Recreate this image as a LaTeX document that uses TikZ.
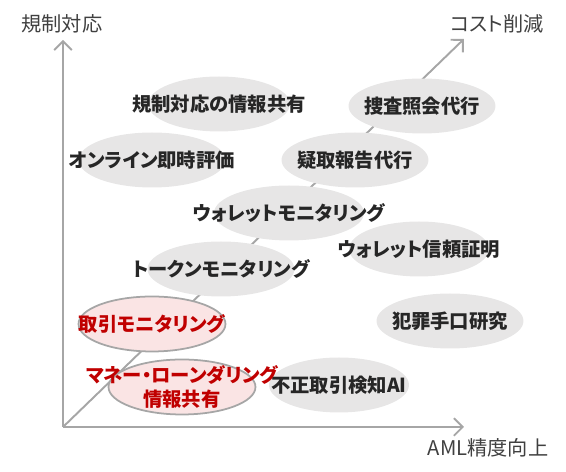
\documentclass[tikz,border=0pt]{standalone}
\usepackage{fontspec}
\setmainfont[RawFeature=+palt]{Noto Sans CJK JP}
\usetikzlibrary{shapes.geometric, arrows.meta, positioning}
\definecolor{axisgray}{RGB}{166,166,166}
\definecolor{bubblegray}{RGB}{231,230,230}
\definecolor{textdark}{RGB}{38,38,38}
\definecolor{labeldark}{RGB}{64,64,64}
\definecolor{alertred}{RGB}{192,0,0}
\definecolor{alertpink}{RGB}{250,228,228}

\begin{document}
\begin{tikzpicture}[
    x=0.02cm, y=-0.02cm,
    bubble/.style={ellipse, fill=bubblegray, minimum width=2.94cm,
                   minimum height=1.1cm, inner sep=0pt},
    hot/.style={bubble, fill=alertpink, draw=axisgray, line width=1pt},
    txt/.style={font=\fontsize{11}{13.5}\selectfont\bfseries,
                text=textdark, align=center, inner sep=0pt},
    hottxt/.style={txt, text=alertred},
    axlabel/.style={font=\fontsize{11.5}{13.5}\selectfont, text=labeldark},
    axis/.style={axisgray, line width=1.1pt,
                 -{Straight Barb[length=5pt, width=10pt]}}
]
\useasboundingbox (0,0) rectangle (566,472);

%% Axes
\coordinate (O)    at (63,427);
\coordinate (ytip) at (63,40);
\coordinate (xtip) at (464,427);
\coordinate (dtip) at (464,39);
\draw[axis] (O) -- (ytip);
\draw[axis] (O) -- (xtip);
\draw[axis] (O) -- (dtip);

\node[axlabel] (ylab) at (62,24)  {規制対応};
\node[axlabel] (dlab) at (497,24) {コスト削減};
\node[axlabel] (xlab) at (488,448) {AML精度向上};

%% Bubbles
\node[bubble, minimum width=2.84cm, label={[txt]center:規制対応の情報共有}] (kisei) at (219,104) {};
\node[bubble, label={[txt]center:捜査照会代行}] (sousa) at (422,106) {};
\node[bubble, label={[txt]center:オンライン即時評価}] (online) at (152,160) {};
\node[bubble, label={[txt]center:疑取報告代行}] (gitori) at (355,160) {};
\node[bubble, minimum width=3.0cm, label={[txt]center:ウォレットモニタリング}] (wmon) at (289,213) {};
\node[bubble, minimum width=2.8cm, label={[txt]center:ウォレット信頼証明}] (wcert) at (419,249) {};
\node[bubble, label={[txt]center:トークンモニタリング}] (token) at (221,269) {};
\node[bubble, label={[txt]center:犯罪手口研究}] (hanzai) at (450,321) {};
\node[bubble, minimum width=2.8cm, label={[txt]center:不正取引検知AI}] (fusei) at (339,385) {};

%% Highlighted
\node[hot, label={[hottxt]center:取引モニタリング}] (torihiki) at (152,324) {};
\node[hot, label={[hottxt]center:{マネー・ローンダリング\\情報共有}}] (mlshare) at (182,387) {};

\end{tikzpicture}
\end{document}
